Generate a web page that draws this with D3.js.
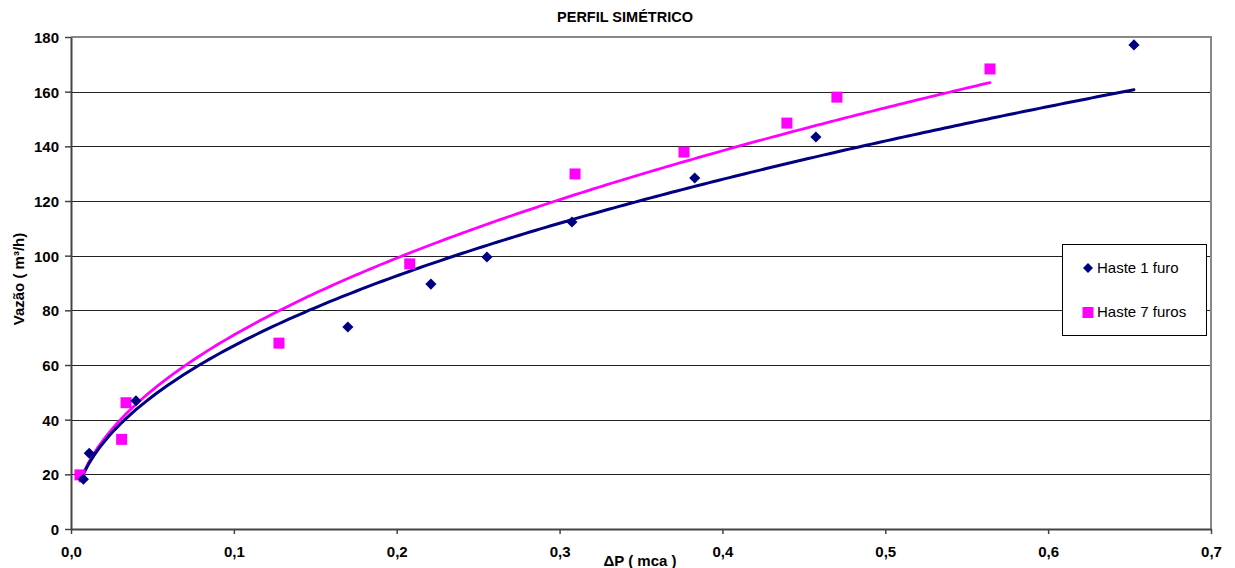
<!DOCTYPE html>
<html>
<head>
<meta charset="utf-8">
<script src="https://cdn.jsdelivr.net/npm/d3@7"></script>
<style>
  html, body { margin: 0; padding: 0; background: #fff; }
  svg { display: block; font-family: "Liberation Sans", Arial, sans-serif; }
</style>
</head>
<body>
<svg id="chart" width="1235" height="568"></svg>
<script>
// Measured flow (m³/h) against pressure drop (mca) for two rod profiles
const seriesNames = ["Haste 1 furo", "Haste 7 furos"];
const haste1DeltaP = [0.0076, 0.0112, 0.0399, 0.170, 0.221, 0.2554, 0.3076, 0.383, 0.4574, 0.6527];
const haste1Vazao  = [18.2, 27.7, 46.9, 73.9, 89.6, 99.5, 112.3, 128.4, 143.4, 177.1];
const haste7DeltaP = [0.0055, 0.0311, 0.0338, 0.1277, 0.208, 0.3095, 0.3764, 0.4396, 0.4703, 0.5643];
const haste7Vazao  = [19.8, 32.8, 46.2, 68.0, 97.0, 129.9, 137.9, 148.5, 158.0, 168.3];
const xTicks = [0, 0.1, 0.2, 0.3, 0.4, 0.5, 0.6, 0.7];
const yTicks = [0, 20, 40, 60, 80, 100, 120, 140, 160, 180];

const svg = d3.select("#chart");
const plot = { left: 71, right: 1211, top: 37, bottom: 529 };

const x = d3.scaleLinear().domain([0, 0.7]).range([plot.left, plot.right]);
const y = d3.scaleLinear().domain([0, 180]).range([plot.bottom, plot.top]);

const fmtX = d => d3.format(".1f")(d).replace(".", ",");

// Power-law trendline (least squares on ln y vs ln x), spanning the data range
function powerFit(xs, ys) {
  const lx = xs.map(Math.log), ly = ys.map(Math.log);
  const mx = d3.mean(lx), my = d3.mean(ly);
  const sxy = d3.sum(lx, (v, i) => (v - mx) * (ly[i] - my));
  const sxx = d3.sum(lx, v => (v - mx) * (v - mx));
  const b = sxy / sxx;
  const a = Math.exp(my - b * mx);
  const [x0, x1] = d3.extent(xs);
  return d3.range(0, 201).map(i => {
    const xv = x0 + (x1 - x0) * i / 200;
    return [xv, a * Math.pow(xv, b)];
  });
}

// Horizontal gridlines
svg.append("g")
  .selectAll("line")
  .data(yTicks.filter(t => t > 0 && t < 180))
  .join("line")
  .attr("x1", plot.left).attr("x2", plot.right)
  .attr("y1", d => Math.round(y(d)) + 0.5).attr("y2", d => Math.round(y(d)) + 0.5)
  .attr("stroke", "#222").attr("stroke-width", 1);

// Plot frame (top and right)
svg.append("path")
  .attr("d", `M${plot.left},${plot.top}H${plot.right}V${plot.bottom}`)
  .attr("fill", "none").attr("stroke", "#888").attr("stroke-width", 2);

// Axes
const xAxis = svg.append("g")
  .attr("transform", `translate(0,${plot.bottom})`)
  .call(d3.axisBottom(x).tickValues(xTicks).tickFormat(fmtX).tickSize(5).tickSizeOuter(0));
const yAxis = svg.append("g")
  .attr("transform", `translate(${plot.left},0)`)
  .call(d3.axisLeft(y).tickValues(yTicks).tickSize(6).tickSizeOuter(0));

[xAxis, yAxis].forEach(g => {
  g.select(".domain").attr("stroke", "#444").attr("stroke-width", 2);
  g.selectAll(".tick line").attr("stroke", "#444").attr("stroke-width", 1.5);
  g.selectAll("text")
    .attr("font-family", "Liberation Sans, Arial, sans-serif")
    .attr("font-size", 15).attr("font-weight", "bold").attr("fill", "#000");
});
xAxis.selectAll("text").attr("y", 28).attr("dy", 0);
yAxis.selectAll("text").attr("x", -12).attr("dy", "0.36em");

// Trendlines
const line = d3.line().x(d => x(d[0])).y(d => y(d[1])).curve(d3.curveLinear);
svg.append("path")
  .datum(powerFit(haste7DeltaP, haste7Vazao))
  .attr("d", line).attr("fill", "none")
  .attr("stroke", "#ff00ff").attr("stroke-width", 2.8).attr("stroke-linecap", "round");
svg.append("path")
  .datum(powerFit(haste1DeltaP, haste1Vazao))
  .attr("d", line).attr("fill", "none")
  .attr("stroke", "#000080").attr("stroke-width", 3).attr("stroke-linecap", "round");

// Markers
const diamond = d3.symbol().type(d3.symbolSquare).size(62);
svg.append("g")
  .selectAll("rect")
  .data(haste7DeltaP.map((d, i) => [d, haste7Vazao[i]]))
  .join("rect")
  .attr("x", d => x(d[0]) - 5.5).attr("y", d => y(d[1]) - 5.5)
  .attr("width", 11).attr("height", 11)
  .attr("fill", "#ff00ff");
svg.append("g")
  .selectAll("path")
  .data(haste1DeltaP.map((d, i) => [d, haste1Vazao[i]]))
  .join("path")
  .attr("d", diamond)
  .attr("transform", d => `translate(${x(d[0])},${y(d[1])}) rotate(45)`)
  .attr("fill", "#000080");

// Title and axis titles
svg.append("text")
  .attr("x", 625).attr("y", 22).attr("text-anchor", "middle")
  .attr("font-size", 14.5).attr("font-weight", "bold").text("PERFIL SIMÉTRICO");
svg.append("text")
  .attr("transform", "translate(24,279) rotate(-90)").attr("text-anchor", "middle")
  .attr("font-size", 15).attr("font-weight", "bold").text("Vazão ( m³/h)");
svg.append("text")
  .attr("x", 640).attr("y", 566).attr("text-anchor", "middle")
  .attr("font-size", 15).attr("font-weight", "bold").text("ΔP ( mca )");

// Legend
const lg = svg.append("g").attr("transform", "translate(1062,244)");
lg.append("rect").attr("x", 0.5).attr("y", 0.5).attr("width", 144).attr("height", 91)
  .attr("fill", "#fff").attr("stroke", "#000").attr("stroke-width", 1);
lg.append("path").attr("d", d3.symbol().type(d3.symbolSquare).size(50))
  .attr("transform", "translate(26,24) rotate(45)").attr("fill", "#000080");
lg.append("rect").attr("x", 20.5).attr("y", 63).attr("width", 11).attr("height", 11).attr("fill", "#ff00ff");
lg.selectAll("text.lbl")
  .data(seriesNames)
  .join("text").attr("class", "lbl")
  .attr("x", 35).attr("y", (d, i) => 29 + i * 44)
  .attr("font-size", 15).attr("fill", "#000")
  .text(d => d);
</script>
</body>
</html>
